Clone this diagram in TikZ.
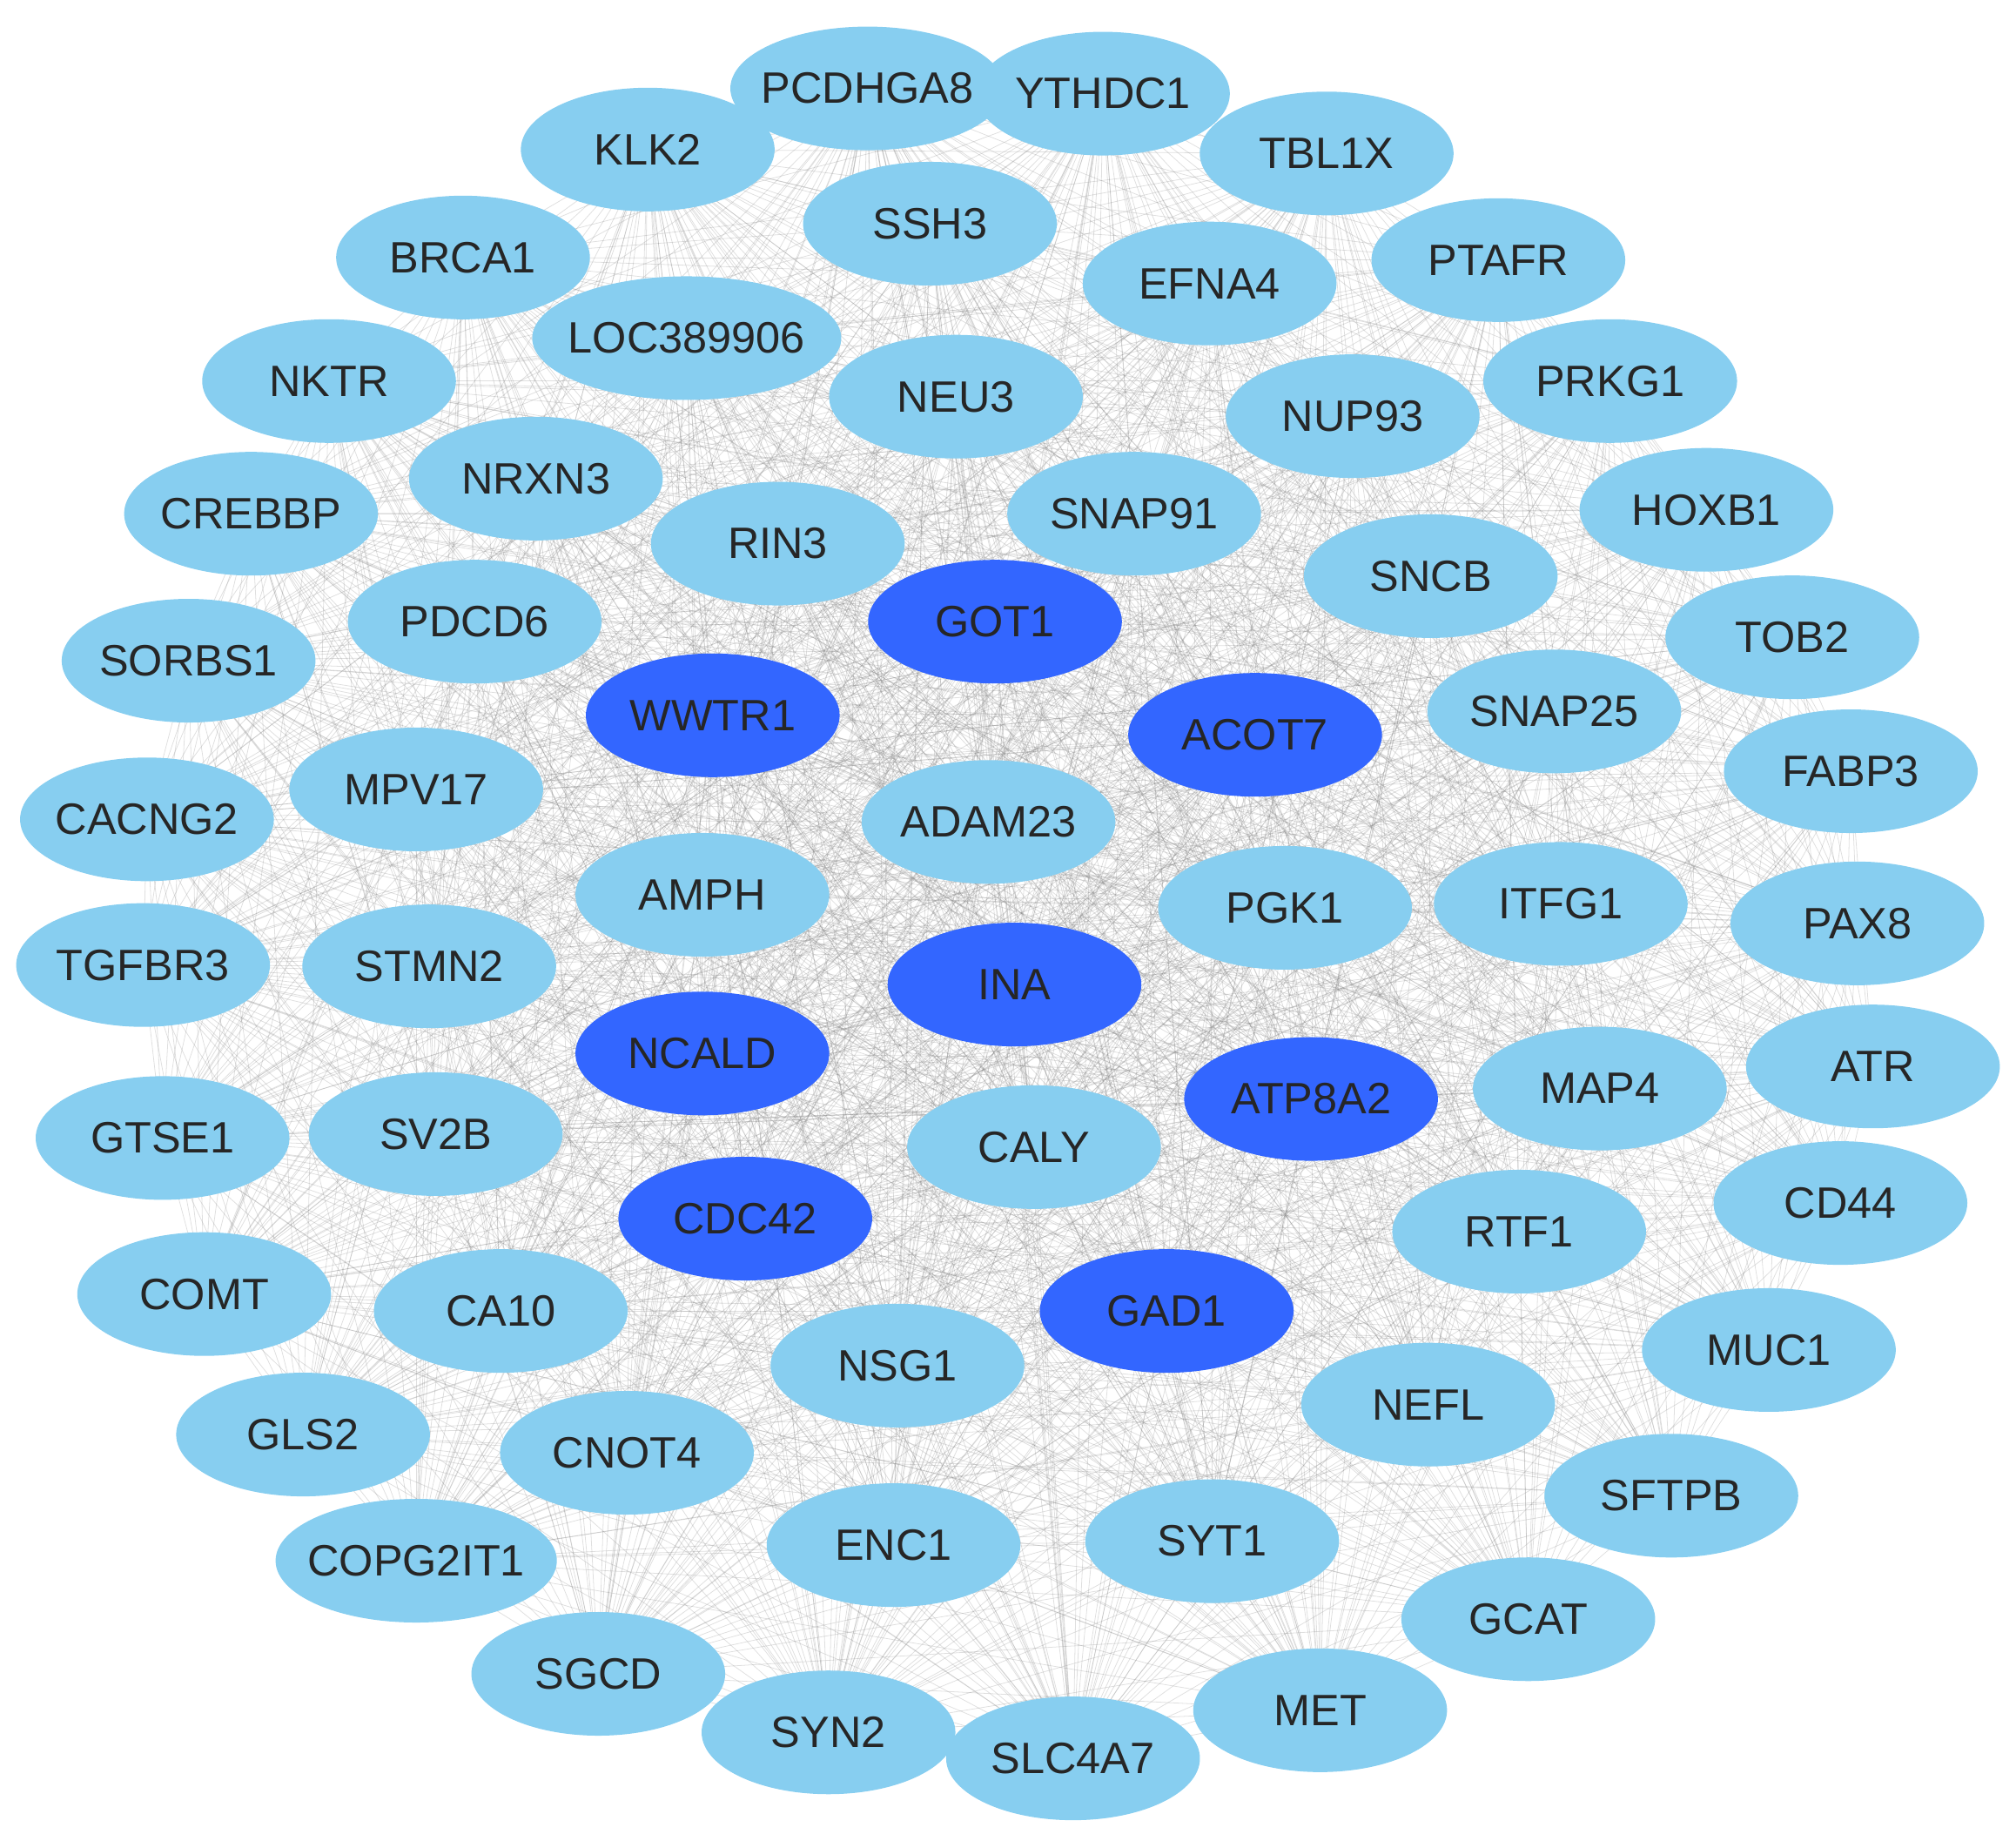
\documentclass[tikz,border=0pt]{standalone}
\usepackage{fontspec}
\setmainfont{Liberation Sans}
\usetikzlibrary{shapes.geometric}
\pgfdeclarelayer{background}
\pgfsetlayers{background,main}
\definecolor{lightn}{HTML}{87CEF0}
\definecolor{darkn}{HTML}{3366FF}
\tikzset{
 gn/.style={ellipse,fill=lightn,minimum width=1.95cm,minimum height=0.95cm,inner sep=-2pt,font=\fontsize{9.6}{11}\selectfont,text=black!85},
 nl/.style={gn},
 nd/.style={gn,fill=darkn},
 edge/.style={draw=gray,opacity=0.25,line width=0.15pt}
}
\begin{document}
\begin{tikzpicture}[x=0.01cm,y=-0.01cm]
\useasboundingbox (0,0) rectangle (1550,1410);
\foreach \t/\x/\y/\s [count=\k] in {
GOT1/765/478/nd, WWTR1/548/550/nd, ACOT7/965/565/nd, INA/780/757/nd, NCALD/540/810/nd, ATP8A2/1008/845/nd, CDC42/573/937/nd, GAD1/897/1008/nd,
PCDHGA8/667/68/nl, YTHDC1/848/72/nl, KLK2/498/115/nl, TBL1X/1020/118/nl, SSH3/715/172/nl, BRCA1/356/198/nl, PTAFR/1152/200/nl, EFNA4/930/218/nl, LOC389906/528/260/nl, NKTR/253/293/nl,
NEU3/735/305/nl, PRKG1/1238/293/nl, NUP93/1040/320/nl, NRXN3/412/368/nl, CREBBP/193/395/nl, RIN3/598/418/nl, SNAP91/872/395/nl, HOXB1/1312/392/nl, SNCB/1100/443/nl, PDCD6/365/478/nl,
SORBS1/145/508/nl, TOB2/1378/490/nl, SNAP25/1195/547/nl, FABP3/1423/593/nl, MPV17/320/607/nl, CACNG2/113/630/nl, ADAM23/760/632/nl, AMPH/540/688/nl, PGK1/988/698/nl, ITFG1/1200/695/nl,
PAX8/1428/710/nl, TGFBR3/110/742/nl, STMN2/330/743/nl, MAP4/1230/837/nl, ATR/1440/820/nl, GTSE1/125/875/nl, SV2B/335/872/nl, CALY/795/882/nl, CD44/1415/925/nl, RTF1/1168/947/nl,
COMT/157/995/nl, CA10/385/1008/nl, MUC1/1360/1038/nl, NSG1/690/1050/nl, NEFL/1098/1080/nl, GLS2/233/1103/nl, CNOT4/482/1117/nl, SFTPB/1285/1150/nl, COPG2IT1/320/1200/nl, ENC1/687/1188/nl,
SYT1/932/1185/nl, GCAT/1175/1245/nl, SGCD/460/1287/nl, SYN2/637/1332/nl, SLC4A7/825/1352/nl, MET/1015/1315/nl}
 {\node[\s] (n\k) at (\x,\y) {\t};}
\begin{pgfonlayer}{background}
\foreach \i in {1,...,63}{
 \pgfmathtruncatemacro\st{\i+1}
 \foreach \j in {\st,...,64}{
   \draw[edge] (n\i.center) -- (n\j.center);
 }
}
\end{pgfonlayer}
\end{tikzpicture}
\end{document}
